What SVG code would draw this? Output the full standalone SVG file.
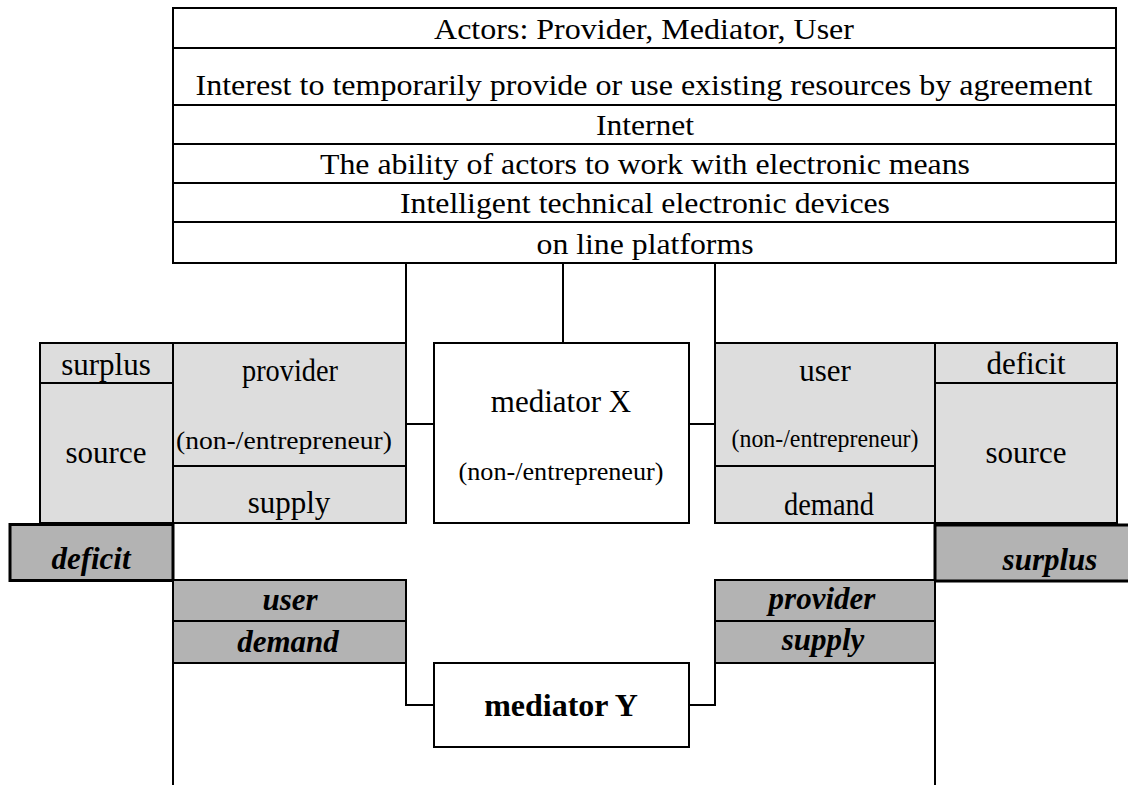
<svg xmlns="http://www.w3.org/2000/svg" width="1128" height="785" viewBox="0 0 1128 785">
<style>
text{font-family:"Liberation Serif","Times New Roman",serif;fill:#000;text-anchor:middle}
.t{font-size:30px}
.m{font-size:31px}
.s{font-size:25px}
.bi{font-size:31px;font-weight:bold;font-style:italic}
.b{font-size:32px;font-weight:bold}
.ln{stroke:#000;stroke-width:2;fill:none}
.lt{fill:#dddddd;stroke:#000;stroke-width:2}
.dk{fill:#b3b3b3;stroke:#000;stroke-width:2}
.dk3{fill:#b3b3b3;stroke:#000;stroke-width:3}
.wh{fill:#fff;stroke:#000;stroke-width:2}
</style>
<rect width="1128" height="785" fill="#fff"/>
<g id="conditions">
<rect x="173" y="8" width="943" height="255" fill="#fff" stroke="#000" stroke-width="2"/>
<path class="ln" d="M173 48H1116M173 105H1116M173 144H1116M173 183H1116M173 222H1116"/>
<text class="t" x="644" y="39" textLength="420" lengthAdjust="spacingAndGlyphs">Actors: Provider, Mediator, User</text>
<text class="t" x="644" y="95" textLength="897" lengthAdjust="spacingAndGlyphs">Interest to temporarily provide or use existing resources by agreement</text>
<text class="t" x="645" y="135" textLength="98" lengthAdjust="spacingAndGlyphs">Internet</text>
<text class="t" x="645" y="174" textLength="650" lengthAdjust="spacingAndGlyphs">The ability of actors to work with electronic means</text>
<text class="t" x="645" y="213" textLength="490" lengthAdjust="spacingAndGlyphs">Intelligent technical electronic devices</text>
<text class="t" x="645" y="254" textLength="217" lengthAdjust="spacingAndGlyphs">on line platforms</text>
</g>
<g id="connectors">
<path class="ln" d="M406 263V343M563 263V343M715 263V343"/>
<path class="ln" d="M406 424H434M689 424H715"/>
<path class="ln" d="M406 663V705H434M689 705H715V663"/>
<path class="ln" d="M173 663V785M935 663V785"/>
</g>
<g id="left-source">
<rect class="lt" x="40" y="343" width="133" height="180"/>
<path class="ln" d="M40 383H173"/>
<text class="m" x="106" y="375">surplus</text>
<text class="m" x="106" y="463">source</text>
</g>
<g id="provider">
<rect class="lt" x="173" y="343" width="233" height="180"/>
<path class="ln" d="M173 466H406"/>
<text class="m" x="290" y="381" textLength="96" lengthAdjust="spacingAndGlyphs">provider</text>
<text class="s" x="284" y="449" textLength="216" lengthAdjust="spacingAndGlyphs">(non-/entrepreneur)</text>
<text class="m" x="289" y="513">supply</text>
</g>
<g id="mediatorX">
<rect class="wh" x="434" y="343" width="255" height="180"/>
<text class="m" x="561" y="412">mediator X</text>
<text class="s" x="561" y="480" textLength="205" lengthAdjust="spacingAndGlyphs">(non-/entrepreneur)</text>
</g>
<g id="user">
<rect class="lt" x="715" y="343" width="220" height="180"/>
<path class="ln" d="M715 466H935"/>
<text class="m" x="825" y="381">user</text>
<text class="s" x="825" y="447" textLength="187" lengthAdjust="spacingAndGlyphs">(non-/entrepreneur)</text>
<text class="m" x="829" y="515" textLength="90" lengthAdjust="spacingAndGlyphs">demand</text>
</g>
<g id="right-source">
<rect class="lt" x="935" y="343" width="182" height="180"/>
<path class="ln" d="M935 383H1117"/>
<text class="m" x="1026" y="374">deficit</text>
<text class="m" x="1026" y="463">source</text>
</g>
<g id="deficit">
<rect class="dk3" x="10" y="524.5" width="163" height="56"/>
<text class="bi" x="91" y="569">deficit</text>
</g>
<g id="surplus">
<rect class="dk3" x="935" y="525" width="196" height="56"/>
<text class="bi" x="1050" y="570">surplus</text>
</g>
<g id="user-demand">
<rect class="dk" x="173" y="580" width="233" height="41"/>
<rect class="dk" x="173" y="621" width="233" height="42"/>
<text class="bi" x="290" y="610">user</text>
<text class="bi" x="288" y="652">demand</text>
</g>
<g id="provider-supply">
<rect class="dk" x="715" y="580" width="220" height="41"/>
<rect class="dk" x="715" y="621" width="220" height="42"/>
<text class="bi" x="822" y="609">provider</text>
<text class="bi" x="823" y="650">supply</text>
</g>
<g id="mediatorY">
<rect class="wh" x="434" y="663" width="255" height="84"/>
<text class="b" x="561" y="716">mediator Y</text>
</g>
</svg>
